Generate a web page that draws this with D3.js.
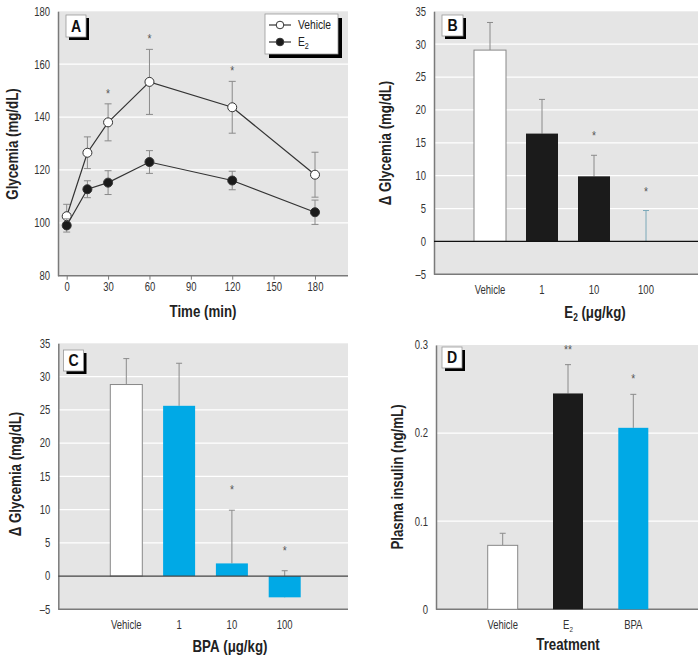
<!DOCTYPE html>
<html>
<head>
<meta charset="utf-8">
<script src="https://cdn.jsdelivr.net/npm/d3@7"></script>
<style>
  html, body { margin: 0; padding: 0; background: #fff; }
  svg { display: block; }
  text { font-family: "Liberation Sans", Arial, sans-serif; }
</style>
</head>
<body>
<svg id="chart" width="699" height="658"></svg>
<script>
// ---------- Data ----------
// Panel A: glycemia time course
const timePoints = [0, 15, 30, 60, 120, 180];
const vehicleGly = [102.5, 126.5, 138, 153.3, 143.7, 118.2];
const vehicleGlyErr = [4.5, 6, 7, 12.3, 9.8, 8.5];
const e2Gly = [99, 112.7, 115.2, 123, 116, 104];
const e2GlyErr = [2.5, 3.2, 4.5, 4.3, 3.5, 4.6];
const starsA = [30, 60, 120];
const timeTicks = [0, 30, 60, 90, 120, 150, 180];
const glyTicks = [80, 100, 120, 140, 160, 180];

// Panel B: E2 dose response
const doseCats = ["Vehicle", "1", "10", "100"];
const e2Delta = [29.1, 16.4, 9.9, 0];
const e2DeltaErr = [4.2, 5.2, 3.2, 4.7];
const e2Stars = ["", "", "*", "*"];

// Panel C: BPA dose response
const bpaDelta = [28.8, 25.6, 1.9, -3.2];
const bpaDeltaErr = [3.9, 6.4, 8.0, 4.0];
const bpaStars = ["", "", "*", "*"];
const deltaTicks = [-5, 0, 5, 10, 15, 20, 25, 30, 35];

// Panel D: plasma insulin
const treatCats = ["Vehicle", "E2", "BPA"];
const insulin = [0.0726, 0.245, 0.206];
const insulinErr = [0.0137, 0.0327, 0.038];
const insulinStars = ["", "**", "*"];
const insulinTicks = [0, 0.1, 0.2, 0.3];

// ---------- Styles ----------
const BG = "#e5e5e5";
const AXIS = "#7a7a7a";
const ERR = "#8a8a8a";
const BLUE = "#00a9e6";
const BLACK = "#1b1b1b";

const svg = d3.select("#chart");

function panelBox(g, x0, x1, y0, y1) {
  g.append("rect").attr("x", x0).attr("y", y0).attr("width", x1 - x0).attr("height", y1 - y0).attr("fill", BG);
}
function labelBox(g, x, y, w, h, letter) {
  g.append("rect").attr("x", x + 3).attr("y", y + 3).attr("width", w).attr("height", h).attr("fill", "#000");
  g.append("rect").attr("x", x).attr("y", y).attr("width", w).attr("height", h).attr("fill", "#fff").attr("stroke", "#999").attr("stroke-width", 0.8);
  g.append("text").attr("x", x + w / 2).attr("y", y + h / 2 + 6).attr("text-anchor", "middle")
    .attr("font-size", 17).attr("font-weight", "bold").attr("fill", "#111").text(letter);
}
function gridLines(g, y, ticks, x0, x1, skip) {
  g.selectAll(null).data(ticks.filter(t => !skip.includes(t))).enter().append("line")
    .attr("x1", x0).attr("x2", x1).attr("y1", d => y(d)).attr("y2", d => y(d))
    .attr("stroke", "#fff").attr("stroke-width", 1.2);
}
function yAxis(g, y, ticks, x0, fmt) {
  const ax = d3.axisLeft(y).tickValues(ticks).tickSize(0).tickPadding(8).tickFormat(fmt);
  const a = g.append("g").attr("transform", `translate(${x0},0)`).call(ax);
  a.select(".domain").attr("stroke", AXIS).attr("stroke-width", 1.5);
  a.selectAll("text").attr("font-size", 12).attr("fill", "#333")
    .attr("font-family", '"Liberation Sans", Arial, sans-serif');
  return a;
}
function yTitle(g, x, y, txt) {
  g.append("text").attr("transform", `translate(${x},${y}) rotate(-90)`).attr("text-anchor", "middle")
    .attr("font-size", 16).attr("font-weight", "bold").attr("fill", "#222").text(txt);
}
function minusFmt(d) { return d < 0 ? "\u2013" + Math.abs(d) : String(d); }

// ---------- Panel A ----------
(function () {
  const g = svg.append("g");
  const L = 58, R = 348, T = 11.3, B = 275.7;
  const x = d3.scaleLinear().domain([0, 180]).range([66.7, 315]);
  const y = d3.scaleLinear().domain([80, 180]).range([B, T]);
  panelBox(g, L, R, T, B);
  gridLines(g, y, glyTicks, L, R, [80, 180]);

  // x axis
  const xa = g.append("g").attr("transform", `translate(0,${B})`)
    .call(d3.axisBottom(x).tickValues(timeTicks).tickSize(4).tickPadding(3));
  xa.select(".domain").remove();
  xa.selectAll("line").attr("stroke", AXIS);
  xa.selectAll("text").attr("font-size", 12).attr("fill", "#333")
    .attr("font-family", '"Liberation Sans", Arial, sans-serif');
  g.append("line").attr("x1", L).attr("x2", R).attr("y1", B).attr("y2", B).attr("stroke", AXIS).attr("stroke-width", 1.5);
  yAxis(g, y, glyTicks, L, d => d);

  const series = [
    { v: vehicleGly, e: vehicleGlyErr, fill: "#fff" },
    { v: e2Gly, e: e2GlyErr, fill: BLACK }
  ];
  series.forEach(s => {
    const pts = timePoints.map((t, i) => ({ t, v: s.v[i], e: s.e[i] }));
    const eg = g.append("g");
    pts.forEach(p => {
      eg.append("line").attr("x1", x(p.t)).attr("x2", x(p.t)).attr("y1", y(p.v - p.e)).attr("y2", y(p.v + p.e)).attr("stroke", ERR);
      [p.v - p.e, p.v + p.e].forEach(c => eg.append("line").attr("x1", x(p.t) - 3.5).attr("x2", x(p.t) + 3.5)
        .attr("y1", y(c)).attr("y2", y(c)).attr("stroke", ERR));
    });
    g.append("path").datum(pts).attr("fill", "none").attr("stroke", "#333").attr("stroke-width", 1.2)
      .attr("d", d3.line().x(d => x(d.t)).y(d => y(d.v)));
    g.selectAll(null).data(pts).enter().append("circle")
      .attr("cx", d => x(d.t)).attr("cy", d => y(d.v)).attr("r", 4.5)
      .attr("fill", s.fill).attr("stroke", "#333").attr("stroke-width", 1);
  });
  starsA.forEach(t => {
    const i = timePoints.indexOf(t);
    g.append("text").attr("x", x(t)).attr("y", y(vehicleGly[i] + vehicleGlyErr[i]) - 6)
      .attr("text-anchor", "middle").attr("font-size", 13).attr("fill", "#555").text("*");
  });

  // legend
  const lg = g.append("g");
  lg.append("rect").attr("x", 269).attr("y", 18).attr("width", 73).attr("height", 40).attr("fill", "#000");
  lg.append("rect").attr("x", 265).attr("y", 14).attr("width", 73).attr("height", 40).attr("fill", "#fff").attr("stroke", "#999").attr("stroke-width", 0.8);
  [{ name: "Vehicle", fill: "#fff", yy: 25 }, { name: "E", sub: "2", fill: BLACK, yy: 42 }].forEach(e => {
    lg.append("line").attr("x1", 269).attr("x2", 291).attr("y1", e.yy).attr("y2", e.yy).attr("stroke", "#333").attr("stroke-width", 1.2);
    lg.append("circle").attr("cx", 280).attr("cy", e.yy).attr("r", 3.8).attr("fill", e.fill).attr("stroke", "#333");
    const t = lg.append("text").attr("x", 298).attr("y", e.yy + 4.5).attr("font-size", 13).attr("fill", "#222").text(e.name);
    if (e.sub) t.append("tspan").attr("font-size", 9).attr("dy", 3).text(e.sub);
  });

  labelBox(g, 66, 15, 20, 22, "A");
  g.append("text").attr("x", 203).attr("y", 317).attr("text-anchor", "middle").attr("font-size", 16)
    .attr("font-weight", "bold").attr("fill", "#222").text("Time (min)");
  yTitle(g, 18, 144, "Glycemia (mg/dL)");
})();

// ---------- Bar panel helper ----------
function barPanel(opt) {
  const g = svg.append("g");
  const { L, R, T, B } = opt;
  const x = d3.scalePoint().domain(opt.cats).range(opt.xr);
  const y = d3.scaleLinear().domain(opt.yd).range([B, T]);
  panelBox(g, L, R, T, B);
  gridLines(g, y, opt.ticks, L, R, opt.skipGrid);
  yAxis(g, y, opt.ticks, L, opt.fmt);
  g.append("line").attr("x1", L).attr("x2", R).attr("y1", B).attr("y2", B).attr("stroke", AXIS).attr("stroke-width", 1.5);

  opt.cats.forEach((c, i) => {
    const v = opt.vals[i], e = opt.errs[i], cx = x(c);
    const ec = opt.errColors ? opt.errColors[i] : ERR;
    g.append("line").attr("x1", cx).attr("x2", cx).attr("y1", y(v)).attr("y2", y(v + e)).attr("stroke", ec);
    g.append("line").attr("x1", cx - 3).attr("x2", cx + 3).attr("y1", y(v + e)).attr("y2", y(v + e)).attr("stroke", ec);
    if (v !== 0) {
      g.append("rect").attr("x", cx - opt.bw / 2).attr("width", opt.bw)
        .attr("y", y(Math.max(v, 0))).attr("height", Math.abs(y(v) - y(0)))
        .attr("fill", opt.colors[i]).attr("stroke", opt.colors[i] === "#fff" ? "#888" : "none").attr("stroke-width", 1);
    }
    if (opt.stars[i]) {
      g.append("text").attr("x", cx).attr("y", y(v + e) - opt.starOff).attr("text-anchor", "middle")
        .attr("font-size", 13).attr("fill", "#555").text(opt.stars[i]);
    }
    const lab = g.append("text").attr("x", cx).attr("y", opt.labY).attr("text-anchor", "middle")
      .attr("font-size", 12).attr("fill", "#333");
    if (c === "E2") { lab.text("E"); lab.append("tspan").attr("font-size", 8).attr("dy", 3).text("2"); }
    else lab.text(c);
  });
  if (opt.zeroLine) {
    g.append("line").attr("x1", L).attr("x2", R).attr("y1", y(0)).attr("y2", y(0)).attr("stroke", opt.zeroLine).attr("stroke-width", 1.3);
  }
  labelBox(g, opt.lbx, opt.lby, opt.lbw, 21, opt.letter);
  opt.xTitle(g);
  yTitle(g, opt.ytx, opt.yty, opt.ytitle);
  return g;
}

function doseTitle(g, cx, by, prefix, sub) {
  const t = g.append("text").attr("x", cx).attr("y", by).attr("text-anchor", "middle").attr("font-size", 16)
    .attr("font-weight", "bold").attr("fill", "#222");
  t.append("tspan").text(prefix);
  if (sub) t.append("tspan").attr("font-size", 10).attr("dy", 3).text(sub);
  t.append("tspan").attr("dy", sub ? -3 : 0).text(" (\u03bcg/kg)");
}

// ---------- Panel B ----------
barPanel({
  L: 434, R: 698, T: 11.3, B: 274.3, yd: [-5, 35], ticks: deltaTicks, skipGrid: [-5, 0, 35],
  cats: doseCats, xr: [490, 646], vals: e2Delta, errs: e2DeltaErr, stars: e2Stars, starOff: 15,
  colors: ["#fff", BLACK, BLACK, BLACK], errColors: [ERR, ERR, ERR, "#7aa8b8"], bw: 32, labY: 294,
  fmt: minusFmt, zeroLine: "#111", lbx: 442, lby: 15, lbw: 21, letter: "B",
  xTitle: g => doseTitle(g, 595, 318, "E", "2"), ytx: 391, yty: 143, ytitle: "\u0394 Glycemia (mg/dL)"
});

// ---------- Panel C ----------
barPanel({
  L: 58.3, R: 348, T: 343.3, B: 609.3, yd: [-5, 35], ticks: deltaTicks, skipGrid: [-5, 0, 35],
  cats: doseCats, xr: [126.3, 284.7], vals: bpaDelta, errs: bpaDeltaErr, stars: bpaStars, starOff: 16,
  colors: ["#fff", BLUE, BLUE, BLUE], bw: 32, labY: 629,
  fmt: minusFmt, zeroLine: "#444", lbx: 63.5, lby: 350, lbw: 20, letter: "C",
  xTitle: g => doseTitle(g, 230, 652, "BPA", null), ytx: 21, yty: 474, ytitle: "\u0394 Glycemia (mg/dL)"
});

// ---------- Panel D ----------
barPanel({
  L: 436, R: 698, T: 345, B: 609.3, yd: [0, 0.3], ticks: insulinTicks, skipGrid: [0, 0.3],
  cats: treatCats, xr: [502.7, 633.3], vals: insulin, errs: insulinErr, stars: insulinStars, starOff: 11,
  colors: ["#fff", BLACK, BLUE], bw: 30, labY: 629.5,
  fmt: d => d === 0 ? "0" : d3.format(".1f")(d), zeroLine: null, lbx: 442, lby: 347, lbw: 20, letter: "D",
  xTitle: g => g.append("text").attr("x", 568).attr("y", 650).attr("text-anchor", "middle").attr("font-size", 16)
    .attr("font-weight", "bold").attr("fill", "#222").text("Treatment"),
  ytx: 403, yty: 477, ytitle: "Plasma insulin (ng/mL)"
});

// ---------- Condense all text horizontally (narrow typeface look) ----------
svg.selectAll("text").each(function () {
  const t = d3.select(this);
  const x = +(t.attr("x") || 0);
  const bold = t.attr("font-weight") === "bold";
  const k = bold ? 0.83 : 0.79;
  const prev = t.attr("transform") || "";
  t.attr("transform", `${prev} translate(${x},0) scale(${k},1) translate(${-x},0)`);
});
</script>
</body>
</html>
